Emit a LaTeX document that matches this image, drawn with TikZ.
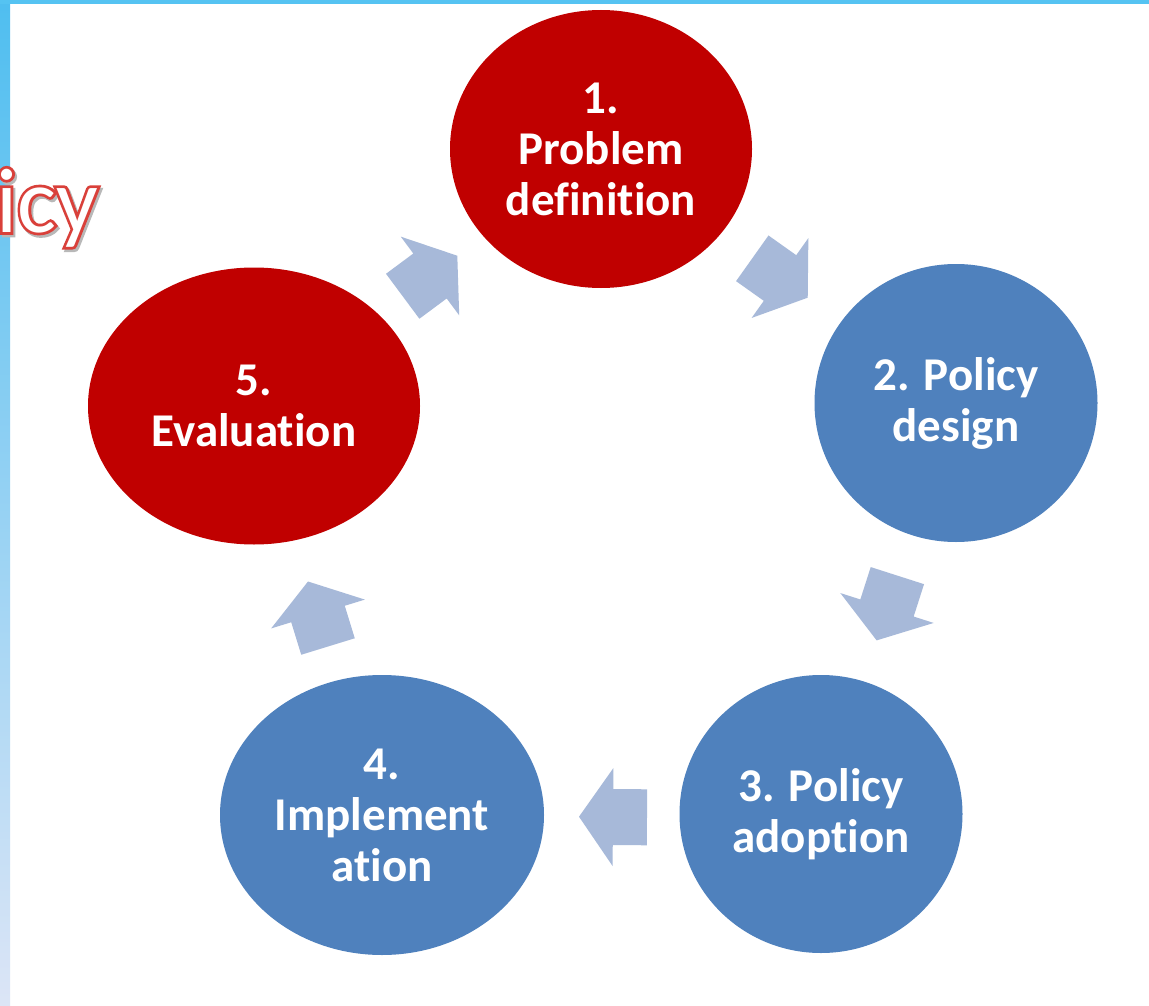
\documentclass[tikz,border=0pt]{standalone}
\usepackage{fontspec}
\setmainfont{Carlito}[Ligatures={NoCommon,NoRequired,NoContextual}]
\newfontfamily\icyoutline{Carlito}[FakeBold=6]
\usetikzlibrary{shapes.geometric,calc}
\definecolor{stepred}{HTML}{C00000}
\definecolor{stepblue}{HTML}{4F81BD}
\definecolor{arrowblue}{HTML}{A7B9D9}
\definecolor{outlinered}{RGB}{217,64,58}
\definecolor{striptop}{HTML}{4FBEF0}
\definecolor{stripmid}{HTML}{C6D6F0}
\definecolor{stripbot}{HTML}{DCE5F6}
\definecolor{topband}{HTML}{55C3F2}
\newcommand\cyclearrow[2]{%
  \coordinate (#1-tail) at ($(#1)!-34pt!(#2.center)$);
  \coordinate (#1-tip) at ($(#1)!34pt!(#2.center)$);
  \fill[arrowfill] ($(#1-tail)!28pt!90:(#2.center)$) -- ($(#1)!28pt!90:(#2.center)$)
    -- ($(#1)!49pt!90:(#2.center)$) -- (#1-tip) -- ($(#1)!49pt!-90:(#2.center)$)
    -- ($(#1)!28pt!-90:(#2.center)$) -- ($(#1-tail)!28pt!-90:(#2.center)$) -- cycle;}
\begin{document}
\begin{tikzpicture}[x=1pt,y=-1pt,
  stage/.style={ellipse, inner sep=0pt, text=white, align=center,
    font=\fontsize{47}{51}\selectfont\bfseries},
  arrowfill/.style={fill=arrowblue},
  icyfont/.style={font=\fontsize{92}{92}\selectfont, anchor=base west, inner sep=0pt},
  icyedge/.style={font=\fontsize{92}{92}\icyoutline, anchor=base west, inner sep=0pt}]
\useasboundingbox (0,0) rectangle (1149,1006);
\fill[white] (0,0) rectangle (1149,1006);
\shade[top color=striptop, middle color=stripmid, bottom color=stripbot] (0,0) rectangle (10,1006);
\fill[topband] (0,0) rectangle (1149,4);

% title fragment
\coordinate (icypos) at (-4,232);
\node[icyedge, text=black!28] (icyshadow) at ($(icypos)+(2,2.5)$) {icy};
\node[icyedge, text=outlinered] (icyline) at (icypos) {icy};
\node[icyfont, text=white] (icy) at (icypos) {icy};

% stages
\node[stage, fill=stepred, minimum width=302pt, minimum height=278pt] (n1) at (601,149) {1.\\Problem\\definition};
\node[stage, fill=stepblue, minimum width=283pt, minimum height=278pt] (n2) at (956,403) {2. Policy\\design};
\node[stage, fill=stepblue, minimum width=283pt, minimum height=278pt] (n3) at (821,814) {3. Policy\\adoption};
\node[stage, fill=stepblue, minimum width=324pt, minimum height=280pt] (n4) at (382,815) {4.\\Implement\\ation};
\node[stage, fill=stepred, minimum width=332pt, minimum height=277pt] (n5) at (254,406) {5.\\Evaluation};

% cycle arrows
\coordinate (a12) at (780,278);
\coordinate (a23) at (887,608);
\coordinate (a34) at (613,817);
\coordinate (a45) at (318,614);
\coordinate (a51) at (430,276);
\cyclearrow{a12}{n2}
\cyclearrow{a23}{n3}
\cyclearrow{a34}{n4}
\cyclearrow{a45}{n5}
\cyclearrow{a51}{n1}
\end{tikzpicture}
\end{document}
